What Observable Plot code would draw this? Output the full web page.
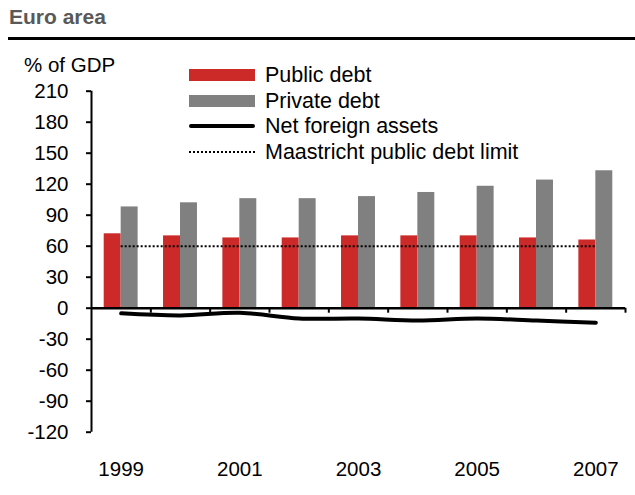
<!DOCTYPE html>
<html>
<head>
<meta charset="utf-8">
<script src="https://cdn.jsdelivr.net/npm/d3@7"></script>
<script src="https://cdn.jsdelivr.net/npm/@observablehq/plot@0.6"></script>
<style>
  html, body { margin: 0; padding: 0; background: #fff; }
  #wrap { position: relative; width: 635px; height: 495px; overflow: hidden; font-family: "Liberation Sans", Arial, sans-serif; color: #000; }
  #title { position: absolute; left: 9px; top: 6px; font-size: 21px; font-weight: bold; color: #595959; line-height: 22px; }
  #rule { position: absolute; left: 8px; right: 0; top: 37px; height: 2.5px; background: #000; }
  #chart { position: absolute; left: 0; top: 45px; }
  #ylabel { position: absolute; left: 24px; top: 55px; font-size: 20.5px; line-height: 20px; white-space: nowrap; }
  #legend { position: absolute; left: 189px; top: 62px; }
  .row { position: relative; height: 25.7px; display: flex; align-items: center; }
  .sw { width: 66px; height: 12px; margin-right: 10px; flex: none; }
  .txt { font-size: 21.5px; line-height: 22px; white-space: nowrap; }
  .ln { width: 66px; height: 0; margin-right: 10px; flex: none; }
</style>
</head>
<body>
<div id="wrap">
  <div id="title">Euro area</div>
  <div id="rule"></div>
  <div id="chart"></div>
  <div id="ylabel">% of GDP</div>
  <div id="legend"></div>
</div>
<script>
// ---- data ----
const years = [1999, 2000, 2001, 2002, 2003, 2004, 2005, 2006, 2007];
const publicDebt = [72, 70, 68, 68, 70, 70, 70, 68, 66];
const privateDebt = [98, 102, 106, 106, 108, 112, 118, 124, 133];
const netForeignAssets = [-5, -7, -4.5, -10, -10, -12, -10, -12, -14];
const maastrichtLimit = 60;
const yTicks = [-120, -90, -60, -30, 0, 30, 60, 90, 120, 150, 180, 210];
const xTickLabels = [1999, 2001, 2003, 2005, 2007];
const seriesNames = ["Public debt", "Private debt", "Net foreign assets", "Maastricht public debt limit"];

const colors = { public: "#cc2929", private: "#808080" };
const rows = years.map((year, i) => ({ year, pub: publicDebt[i], priv: privateDebt[i], nfa: netForeignAssets[i] }));
const boundaries = years.map(y => y + 0.5);
const bw = 0.286;

const chart = Plot.plot({
  width: 635,
  height: 450,
  marginLeft: 91,
  marginRight: 10,
  marginTop: 45.7,
  marginBottom: 63.3,
  style: { fontFamily: "'Liberation Sans', Arial, sans-serif", fontSize: "20px", background: "transparent", overflow: "visible", color: "#000" },
  x: { type: "linear", domain: [years[0] - 0.5, years[years.length - 1] + 0.5] },
  y: { domain: [yTicks[0], yTicks[yTicks.length - 1]] },
  marks: [
    Plot.rectY(rows, { x1: d => d.year - bw, x2: d => d.year, y1: 0, y2: "pub", fill: colors.public }),
    Plot.rectY(rows, { x1: d => d.year, x2: d => d.year + bw, y1: 0, y2: "priv", fill: colors.private }),
    Plot.ruleY([maastrichtLimit], { x1: years[0], x2: years[years.length - 1], stroke: "#000", strokeWidth: 2, strokeDasharray: "2,2" }),
    Plot.ruleY([0], { stroke: "#000", strokeWidth: 2.5 }),
    Plot.ruleX(boundaries, { x: d => d, y1: 0, y2: 0, insetBottom: -5, stroke: "#000", strokeWidth: 2 }),
    Plot.ruleX([years[0] - 0.5], { stroke: "#000", strokeWidth: 2 }),
    Plot.line(rows, { x: "year", y: "nfa", curve: "catmull-rom", stroke: "#000", strokeWidth: 4, strokeLinecap: "round" }),
    Plot.axisY({ ticks: yTicks, tickSize: 5, tickPadding: 18, tickFormat: d => String(d), label: null, strokeWidth: 2, fontSize: 20.5 }),
    Plot.axisX({ ticks: xTickLabels, tickSize: 0, tickPadding: 29, tickFormat: d => String(d), label: null, fontSize: 20.5 })
  ]
});
document.getElementById("chart").appendChild(chart);

// ---- legend ----
const legend = document.getElementById("legend");
const items = [
  { name: seriesNames[0], kind: "box", color: colors.public },
  { name: seriesNames[1], kind: "box", color: colors.private },
  { name: seriesNames[2], kind: "line" },
  { name: seriesNames[3], kind: "dot" }
];
for (const it of items) {
  const row = document.createElement("div");
  row.className = "row";
  const sw = document.createElement("div");
  if (it.kind === "box") {
    sw.className = "sw";
    sw.style.background = it.color;
  } else if (it.kind === "line") {
    sw.className = "ln";
    sw.style.borderTop = "4px solid #000";
    sw.style.borderRadius = "2px";
  } else {
    sw.className = "ln";
    sw.style.borderTop = "2px dotted #000";
  }
  const t = document.createElement("span");
  t.className = "txt";
  t.textContent = it.name;
  row.appendChild(sw);
  row.appendChild(t);
  legend.appendChild(row);
}
</script>
</body>
</html>
